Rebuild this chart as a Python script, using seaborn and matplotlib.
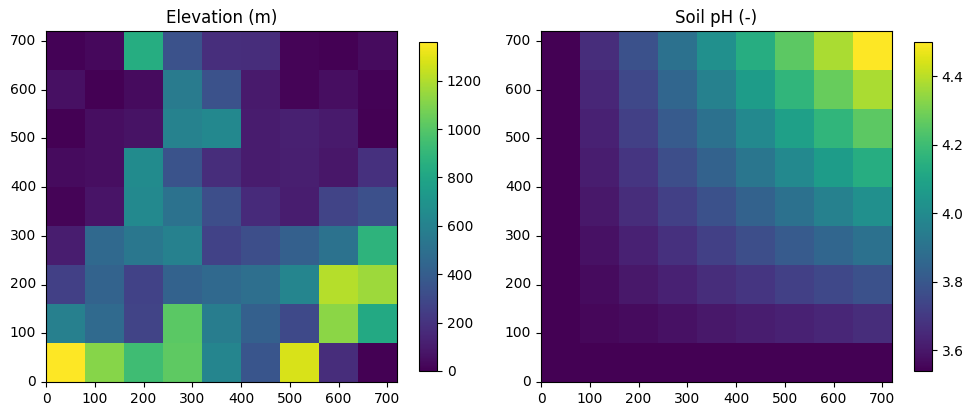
import numpy as np
import matplotlib
matplotlib.use("Agg")
import matplotlib.pyplot as plt
import seaborn as sns

# grid cell edges run 0..720 in steps of 80 (9 x 9 cells)
grid_size = 720
tick_values = [0, 100, 200, 300, 400, 500, 600, 700]

# elevation (m), rows listed from the top (y = 640-720) down to the bottom (y = 0-80)
elevation_rows = [
    [10, 30, 840, 340, 180, 175, 15, 5, 40],
    [55, 0, 40, 560, 340, 95, 15, 50, 10],
    [5, 50, 65, 600, 635, 105, 120, 95, 5],
    [40, 50, 650, 350, 175, 105, 115, 80, 190],
    [15, 70, 640, 515, 320, 160, 110, 275, 330],
    [110, 460, 540, 590, 270, 320, 410, 510, 880],
    [260, 425, 270, 420, 460, 490, 620, 1210, 1160],
    [585, 465, 275, 1010, 570, 410, 300, 1125, 820],
    [1360, 1115, 935, 1025, 620, 360, 1280, 175, 0],
]

# soil pH (-), same row order
ph_rows = [
    [3.54, 3.66, 3.78, 3.90, 4.02, 4.14, 4.26, 4.38, 4.50],
    [3.54, 3.645, 3.75, 3.855, 3.96, 4.065, 4.17, 4.275, 4.38],
    [3.54, 3.63, 3.72, 3.81, 3.90, 3.99, 4.08, 4.17, 4.26],
    [3.54, 3.615, 3.69, 3.765, 3.84, 3.915, 3.99, 4.065, 4.14],
    [3.54, 3.60, 3.66, 3.72, 3.78, 3.84, 3.90, 3.96, 4.02],
    [3.54, 3.585, 3.63, 3.675, 3.72, 3.765, 3.81, 3.855, 3.90],
    [3.54, 3.57, 3.60, 3.63, 3.66, 3.69, 3.72, 3.75, 3.78],
    [3.54, 3.555, 3.57, 3.585, 3.60, 3.615, 3.63, 3.645, 3.66],
    [3.54, 3.54, 3.54, 3.54, 3.54, 3.54, 3.54, 3.54, 3.54],
]

W, H = 972, 416
fig = plt.figure(figsize=(W / 100, H / 100), dpi=100)


def px_box(x0, y0, x1, y1):
    # pixel box (top-left origin) -> figure fraction rect
    return [x0 / W, (H - y1) / H, (x1 - x0) / W, (y1 - y0) / H]


def draw_panel(data, title, ax_rect, cb_rect):
    ax = fig.add_axes(px_box(*ax_rect))
    cax = fig.add_axes(px_box(*cb_rect))
    arr = np.array(data)
    n = arr.shape[0]
    cell = grid_size / n
    sns.heatmap(arr, ax=ax, cbar_ax=cax, cmap="viridis",
                xticklabels=False, yticklabels=False)
    ax.set_xticks([v / cell for v in tick_values])
    ax.set_xticklabels([str(v) for v in tick_values], rotation=0)
    ax.set_yticks([(grid_size - v) / cell for v in tick_values])
    ax.set_yticklabels([str(v) for v in tick_values], rotation=0, va="center")
    ax.tick_params(length=3.5, width=0.8, labelsize=10)
    for sp in ax.spines.values():
        sp.set_visible(True)
        sp.set_color("black")
        sp.set_linewidth(0.8)
    ax.set_title(title, fontsize=12)
    cb = ax.collections[0].colorbar
    cb.outline.set_visible(True)
    cb.outline.set_linewidth(0.8)
    cb.outline.set_edgecolor("black")
    cb.ax.tick_params(length=3.5, width=0.8, labelsize=10)
    return ax


draw_panel(elevation_rows, "Elevation (m)", (46, 31, 397, 382), (419, 42, 437, 371))
draw_panel(ph_rows, "Soil pH (-)", (541, 31, 892, 382), (914, 42, 932, 371))

fig.savefig("out.png", dpi=100)
